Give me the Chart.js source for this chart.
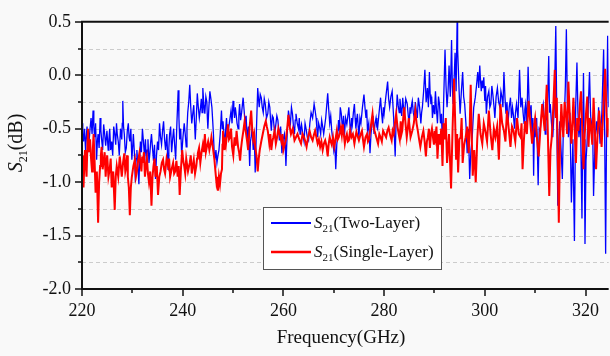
<!DOCTYPE html>
<html>
<head>
<meta charset="utf-8">
<script src="https://cdn.jsdelivr.net/npm/chart.js@4.4.0/dist/chart.umd.min.js"></script>
<style>
    body { margin: 0; background: #f9f9f9; }
    #wrap { width: 610px; height: 356px; }
</style>
</head>
<body>
<div id="wrap"><canvas id="s21Chart" width="610" height="356"></canvas></div>
<script>
// S21 (Two-Layer)
const twoLayerGHz = [
    220.0, 220.15, 220.3, 220.5, 220.7, 220.85, 221.0, 221.2, 221.4, 221.6,
    221.8, 222.0, 222.2, 222.35, 222.5, 222.7, 222.9, 223.05, 223.2, 223.4,
    223.6, 223.75, 223.9, 224.1, 224.3, 224.5, 224.7, 224.95, 225.2, 225.35,
    225.5, 225.7, 225.9, 226.1, 226.3, 226.5, 226.7, 226.85, 227.0, 227.2,
    227.4, 227.65, 227.9, 228.0, 228.1, 228.25, 228.4, 228.6, 228.8, 229.0,
    229.2, 229.35, 229.5, 229.7, 229.9, 230.05, 230.2, 230.4, 230.6, 230.75,
    230.9, 231.1, 231.3, 231.45, 231.6, 231.8, 232.0, 232.2, 232.4, 232.6,
    232.8, 232.95, 233.1, 233.3, 233.5, 233.65, 233.8, 234.0, 234.2, 234.4,
    234.6, 234.8, 235.0, 235.2, 235.4, 235.6, 235.8, 236.0, 236.2, 236.4,
    236.6, 236.85, 237.1, 237.25, 237.4, 237.6, 237.8, 238.0, 238.2, 238.4,
    238.6, 238.85, 239.1, 239.25, 239.4, 239.6, 239.8, 240.05, 240.3, 240.5,
    240.7, 240.85, 241.0, 241.2, 241.4, 241.6, 241.8, 242.0, 242.2, 242.35,
    242.5, 242.7, 242.9, 243.1, 243.3, 243.5, 243.7, 243.85, 244.0, 244.2,
    244.4, 244.6, 244.8, 244.9, 245.0, 245.2, 245.4, 245.6, 245.8, 245.95,
    246.1, 246.25, 246.4, 246.6, 246.8, 247.0, 247.2, 247.45, 247.7, 247.85,
    248.0, 248.2, 248.4, 248.55, 248.7, 248.9, 249.1, 249.35, 249.6, 249.8,
    250.0, 250.15, 250.3, 250.45, 250.6, 250.8, 251.0, 251.15, 251.3, 251.5,
    251.7, 251.85, 252.0, 252.2, 252.4, 252.6, 252.8, 253.05, 253.3, 253.45,
    253.6, 253.8, 254.0, 254.2, 254.4, 254.65, 254.9, 255.05, 255.2, 255.4,
    255.6, 255.8, 256.0, 256.2, 256.4, 256.65, 256.9, 257.1, 257.3, 257.45,
    257.6, 257.8, 258.0, 258.25, 258.5, 258.7, 258.9, 259.05, 259.2, 259.45,
    259.7, 259.95, 260.2, 260.35, 260.5, 260.75, 261.0, 261.2, 261.4, 261.6,
    261.8, 262.0, 262.2, 262.35, 262.5, 262.75, 263.0, 263.15, 263.3, 263.45,
    263.6, 263.85, 264.1, 264.3, 264.5, 264.75, 265.0, 265.25, 265.5, 265.8,
    266.1, 266.3, 266.5, 266.65, 266.8, 267.0, 267.2, 267.4, 267.6, 267.8,
    268.0, 268.4, 268.8, 269.0, 269.2, 269.4, 269.6, 269.8, 270.0, 270.2,
    270.4, 270.6, 270.8, 270.95, 271.1, 271.3, 271.5, 271.65, 271.8, 271.95,
    272.1, 272.35, 272.6, 272.8,
    273.0, 273.2, 273.4, 273.55, 273.7, 273.9, 274.1, 274.25, 274.4, 274.55,
    274.7, 274.85, 275.0, 275.2, 275.4, 275.7, 276.0, 276.2, 276.4, 276.55,
    276.7, 276.95, 277.2, 277.4, 277.6, 277.8, 278.0, 278.2, 278.4, 278.55,
    278.7, 279.0, 279.3, 279.5, 279.7, 279.85, 280.0, 280.35, 280.7, 280.9,
    281.1, 281.35, 281.6, 281.9, 282.2, 282.4, 282.6, 282.8, 283.0, 283.15,
    283.3, 283.5, 283.7, 283.85, 284.0, 284.3, 284.6, 284.8, 285.0, 285.15,
    285.3, 285.45, 285.6, 285.8, 286.0, 286.2, 286.4, 286.6, 286.8, 287.05,
    287.3, 287.45, 287.6, 287.85, 288.1, 288.35, 288.6, 288.8, 289.0, 289.15,
    289.3, 289.45, 289.6, 289.8, 290.0, 290.1, 290.2, 290.4, 290.6, 290.8,
    291.0, 291.2, 291.4, 291.6, 291.85, 292.1, 292.3, 292.5, 292.7, 292.9,
    293.15, 293.4, 293.55, 293.7, 293.9, 294.1, 294.3, 294.5, 294.6, 294.7,
    294.9, 295.1, 295.35, 295.6, 295.8, 296.0, 296.25, 296.5, 296.75, 297.0,
    297.25, 297.5, 297.8, 298.1, 298.35, 298.6, 298.8,
    299.0, 299.15, 299.3, 299.45, 299.6, 299.8, 300.0, 300.15, 300.3, 300.55,
    300.8, 301.0, 301.2, 301.4, 301.6, 301.8, 302.0, 302.25, 302.5, 302.75,
    303.0, 303.2, 303.4, 303.6, 303.8, 304.0, 304.2, 304.4, 304.6, 304.85,
    305.1, 305.3, 305.5, 305.7, 305.9, 306.1, 306.3, 306.6, 306.9, 307.15,
    307.4, 307.6, 307.8, 307.95, 308.1, 308.35, 308.6, 308.8, 309.0, 309.2,
    309.4, 309.55, 309.7, 309.85, 310.0, 310.3, 310.6, 310.8, 311.0, 311.3,
    311.6, 311.8, 312.0, 312.15, 312.3, 312.5, 312.7, 312.85, 313.0, 313.25,
    313.5, 313.8, 314.1, 314.3, 314.5, 314.7, 314.9, 315.15, 315.4, 315.6,
    315.8, 316.0, 316.2, 316.4, 316.6, 316.9, 317.2, 317.5, 317.8, 318.05,
    318.3, 318.5, 318.7, 319.0, 319.3, 319.45, 319.6, 319.75, 319.9, 320.1,
    320.3, 320.55, 320.8, 321.0, 321.2, 321.4, 321.6, 321.9, 322.2, 322.4,
    322.6, 322.75, 322.9, 323.25, 323.6, 323.8, 324.0, 324.2, 324.4, 324.6
];
const twoLayerDB = [
    -0.45, -0.55, -0.62, -0.50, -0.70, -0.58, -0.48, -0.72, -0.62, -0.50,
    -0.40, -0.55, -0.33, -0.48, -0.58, -0.45, -0.79, -0.62, -0.55, -0.68,
    -0.40, -0.52, -0.60, -0.70, -0.46, -0.55, -0.66, -0.52, -0.70, -0.60,
    -0.50, -0.70, -0.62, -0.75, -0.48, -0.55, -0.65, -0.45, -0.55, -0.62,
    -0.75, -0.50, -0.60, -0.45, -0.24, -0.48, -0.55, -0.72, -0.68, -0.52,
    -0.45, -0.58, -0.62, -0.50, -0.79, -0.68, -0.55, -0.72, -1.00, -0.78,
    -0.70, -0.85, -1.02, -0.80, -0.62, -0.72, -0.50, -0.62, -0.75, -0.60,
    -0.85, -0.70, -0.60, -0.82, -0.72, -0.62, -0.55, -0.68, -0.80, -0.65,
    -0.97, -0.75, -0.62, -0.70, -0.45, -0.58, -0.65, -0.52, -0.43, -0.60,
    -0.70, -0.55, -0.88, -0.68, -0.55, -0.48, -0.72, -0.60, -0.50, -0.65,
    -0.79, -0.45, -0.14, -0.40, -0.60, -0.50, -0.75, -0.58, -0.45, -0.55,
    -0.67, -0.50, -0.35, -0.25, -0.09, -0.30, -0.45, -0.36, -0.28, -0.45,
    -0.60, -0.40, -0.17, -0.30, -0.40, -0.32, -0.22, -0.35, -0.12, -0.28,
    -0.36, -0.20, -0.25, -0.40, -0.50, -0.30, -0.15, -0.22, -0.30, -0.42,
    -0.55, -0.72, -0.79, -0.70, -0.82, -0.75, -0.70, -0.55, -0.33, -0.50,
    -0.43, -0.55, -0.64, -0.50, -0.40, -0.58, -0.50, -0.42, -0.33, -0.45,
    -0.24, -0.32, -0.40, -0.30, -0.36, -0.45, -0.50, -0.38, -0.27, -0.42,
    -0.35, -0.28, -0.21, -0.33, -0.46, -0.38, -0.60, -0.48, -0.85, -0.62,
    -0.58, -0.48, -0.70, -0.55, -0.91, -0.50, -0.12, -0.22, -0.30, -0.18,
    -0.21, -0.30, -0.35, -0.22, -0.27, -0.40, -0.36, -0.25, -0.30, -0.42,
    -0.52, -0.38, -0.40, -0.55, -0.46, -0.38, -0.42, -0.50, -0.61, -0.48,
    -0.73, -0.60, -0.55, -0.65, -0.85, -0.55, -0.33, -0.40, -0.45, -0.30,
    -0.36, -0.48, -0.55, -0.42, -0.36, -0.45, -0.50, -0.40, -0.55, -0.50,
    -0.46, -0.55, -0.62, -0.45, -0.50, -0.58, -0.61, -0.45, -0.35, -0.40,
    -0.27, -0.33, -0.40, -0.50, -0.58, -0.45, -0.49, -0.55, -0.42, -0.48,
    -0.55, -0.40, -0.17, -0.32, -0.45, -0.38, -0.52, -0.60, -0.70, -0.62,
    -0.88, -0.65, -0.55, -0.42, -0.52, -0.30, -0.36, -0.45, -0.48, -0.38,
    -0.58, -0.40, -0.46, -0.38,
    -0.30, -0.45, -0.55, -0.40, -0.46, -0.35, -0.27, -0.40, -0.50, -0.42,
    -0.36, -0.48, -0.58, -0.40, -0.45, -0.30, -0.18, -0.30, -0.40, -0.32,
    -0.52, -0.45, -0.73, -0.55, -0.45, -0.38, -0.55, -0.45, -0.40, -0.48,
    -0.50, -0.35, -0.21, -0.35, -0.45, -0.30, -0.36, -0.20, -0.06, -0.22,
    -0.30, -0.20, -0.15, -0.40, -0.76, -0.40, -0.18, -0.28, -0.35, -0.22,
    -0.30, -0.38, -0.21, -0.30, -0.40, -0.22, -0.27, -0.38, -0.45, -0.30,
    -0.36, -0.28, -0.24, -0.35, -0.40, -0.25, -0.33, -0.40, -0.21, -0.30,
    -0.45, -0.35, -0.30, -0.15, 0.05, -0.25, -0.12, -0.30, 0.03, -0.18,
    -0.27, -0.20, -0.40, -0.28, -0.36, -0.25, -0.15, -0.32, -0.45, -0.20,
    -0.27, -0.45, -0.36, -0.70, -0.20, 0.24, -0.10, -0.30, -0.15, 0.09,
    -0.20, 0.33, -0.10, -0.27, -0.05, 0.21, -0.15, 0.50, 0.25, 0.12,
    -0.15, -0.36, -0.15, 0.03, -0.20, -0.27, -0.45, -0.73, -0.50, -0.97,
    -0.70, -0.58, -0.30, -0.21, -0.10, 0.03, -0.12,
    0.09, -0.05, -0.15, -0.05, -0.12, -0.02, -0.24, -0.10, -0.36, -0.20,
    -0.15, -0.30, -0.27, -0.10, -0.18, -0.28, -0.40, -0.20, -0.12, -0.25,
    -0.30, -0.15, -0.20, -0.30, 0.03, -0.20, -0.36, -0.25, -0.45, -0.30,
    -0.21, -0.40, -0.30, -0.38, -0.50, -0.35, -0.27, -0.40, 0.05, -0.30,
    -0.21, -0.35, -0.45, -0.32, -0.27, -0.45, 0.08, -0.25, -0.36, -0.28,
    -0.60, -0.40, -0.94, -0.45, -0.58, -0.40, -1.03, -0.50, -0.52, -0.35,
    -0.27, -0.40, -0.55, -0.30, -0.42, -0.20, 0.18, -0.35, -0.27, -0.45,
    -0.58, -0.30, 0.46, -0.40, -1.22, -0.60, -0.43, -0.70, -0.97, -0.50,
    -0.40, -0.10, 0.43, -0.30, -0.58, -0.35, -1.19, -0.60, -1.55, -0.30,
    0.12, -0.35, -0.58, -0.40, -1.34, -0.50, 0.02, -0.60, -1.58, -0.80,
    -0.64, -0.30, 0.03, -0.35, -0.55, -0.40, -1.13, -0.60, -0.43, -0.55,
    -0.30, -0.50, -0.64, -0.35, 0.24, -0.50, -1.67, -0.40, 0.37, -0.30
];

// S21 (Single-Layer)
const singleLayerGHz = [
    220.0, 220.15, 220.3, 220.45, 220.6, 220.75, 220.9, 221.05, 221.2, 221.4,
    221.6, 221.8, 222.0, 222.15, 222.3, 222.5, 222.7, 222.95, 223.2, 223.4,
    223.6, 223.75, 223.9, 224.1, 224.3, 224.5, 224.7, 224.85, 225.0, 225.25,
    225.5, 225.7, 225.9, 226.2, 226.5, 226.7, 226.9, 227.2, 227.5, 227.7,
    227.9, 228.15, 228.4, 228.6, 228.8, 228.95, 229.1, 229.3, 229.5, 229.7,
    229.9, 230.2, 230.5, 230.7, 230.9, 231.15, 231.4, 231.6, 231.8, 231.95,
    232.1, 232.3, 232.5, 232.7, 232.9, 233.1, 233.3, 233.55, 233.8, 234.0,
    234.2, 234.4, 234.6, 234.85, 235.1, 235.35, 235.6, 235.85, 236.1, 236.3,
    236.5, 236.8, 237.1, 237.3, 237.5, 237.8, 238.1, 238.3, 238.5, 238.75,
    239.0, 239.2, 239.4, 239.65, 239.9, 240.1, 240.3, 240.5, 240.7, 241.05,
    241.4, 241.6, 241.8, 242.0, 242.2, 242.45, 242.7, 242.85, 243.0, 243.25,
    243.5, 243.75, 244.0, 244.2, 244.4, 244.6, 244.8, 245.05, 245.3, 245.5,
    245.7, 246.0, 246.3, 246.5, 246.7, 246.85, 247.0, 247.2, 247.4, 247.6,
    247.8, 247.9,
    248.0, 248.15, 248.3, 248.45, 248.6, 248.8, 249.0, 249.2, 249.4, 249.6,
    249.8, 250.05, 250.3, 250.5, 250.7, 250.85, 251.0, 251.2, 251.4, 251.6,
    251.8, 252.05, 252.3, 252.45, 252.6, 252.8, 253.0, 253.3, 253.6, 253.8,
    254.0, 254.2, 254.4, 254.65, 254.9, 255.1, 255.3, 255.6, 255.9, 256.2,
    256.5, 256.7, 256.9, 257.05, 257.2, 257.4, 257.6, 257.8, 258.0, 258.25,
    258.5, 258.75, 259.0, 259.3, 259.6, 259.8, 260.0, 260.25, 260.5, 260.75,
    261.0, 261.25, 261.5, 261.85, 262.2, 262.5, 262.8, 263.15, 263.5, 263.8,
    264.1, 264.35, 264.6, 264.9, 265.2, 265.5, 265.8, 266.05, 266.3, 266.55,
    266.8, 267.05, 267.3, 267.55, 267.8, 268.05, 268.3, 268.55, 268.8, 269.0,
    269.2, 269.4, 269.6, 269.85, 270.1, 270.35, 270.6, 270.8, 271.0, 271.2,
    271.4, 271.6,
    271.8, 272.0, 272.2, 272.4, 272.6, 272.8, 273.0, 273.25, 273.5, 273.8,
    274.1, 274.3, 274.5, 274.75, 275.0, 275.3, 275.6, 275.8, 276.0, 276.3,
    276.6, 276.8, 277.0, 277.35, 277.7, 277.9, 278.1, 278.45, 278.8, 279.05,
    279.3, 279.55, 279.8, 280.1, 280.4, 280.65, 280.9, 281.2, 281.5, 281.7,
    281.9, 282.15, 282.4, 282.65, 282.9, 283.1, 283.3, 283.45, 283.6, 283.8,
    284.0, 284.25, 284.5, 284.7, 284.9, 285.25, 285.6, 285.9, 286.2, 286.45,
    286.7, 286.95, 287.2, 287.5, 287.8, 288.05, 288.3, 288.5, 288.7, 288.9,
    289.1, 289.3, 289.5, 289.7, 289.9, 290.05, 290.2, 290.4, 290.6, 290.85,
    291.1, 291.35, 291.6, 291.8, 292.0, 292.25, 292.5, 292.9, 293.3, 293.6,
    293.9, 294.1, 294.3, 294.5, 294.7, 294.95, 295.2, 295.4, 295.6, 295.9,
    296.2, 296.5, 296.8,
    297.0, 297.2, 297.4, 297.6, 297.9, 298.2, 298.5, 298.8, 299.15, 299.5,
    299.8, 300.1, 300.45, 300.8, 301.15, 301.5, 301.8, 302.1, 302.45, 302.8,
    302.95, 303.1, 303.45, 303.8, 304.1, 304.4, 304.75, 305.1, 305.4, 305.7,
    306.05, 306.4, 306.75, 307.1, 307.3, 307.5, 307.75, 308.0, 308.35, 308.7,
    309.05, 309.4, 309.7, 310.0, 310.35, 310.7, 311.05, 311.4, 311.65, 311.9,
    312.1, 312.3, 312.55, 312.8, 313.05, 313.3, 313.6, 313.9, 314.1, 314.3,
    314.5, 314.7, 314.95, 315.2, 315.4, 315.6, 315.85, 316.1, 316.35, 316.6,
    316.9, 317.2, 317.4, 317.6, 317.85, 318.1, 318.35, 318.6, 318.85, 319.1,
    319.35, 319.6, 319.85, 320.1, 320.35, 320.6, 320.85, 321.1, 321.35, 321.6,
    321.85, 322.1, 322.4, 322.7, 322.95, 323.2, 323.55, 323.9, 324.15, 324.4,
    324.6
];
const singleLayerDB = [
    -0.88, -0.75, -1.05, -0.85, -0.70, -0.82, -0.95, -0.70, -0.50, -0.72,
    -0.60, -0.78, -0.90, -0.70, -0.55, -0.80, -1.10, -0.90, -1.38, -1.00,
    -0.85, -0.75, -0.67, -0.88, -0.80, -0.72, -0.95, -0.82, -0.75, -0.95,
    -0.88, -0.78, -1.05, -0.90, -1.26, -0.95, -0.85, -0.95, -0.76, -0.85,
    -0.95, -0.82, -0.73, -0.90, -0.85, -0.75, -0.95, -1.05, -1.31, -1.05,
    -0.95, -0.85, -0.79, -0.95, -0.90, -0.80, -0.73, -0.82, -0.90, -0.76,
    -0.82, -0.72, -0.95, -0.85, -0.78, -0.92, -1.00, -0.90, -1.22, -0.95,
    -0.85, -0.78, -0.95, -0.85, -1.12, -0.95, -0.90, -0.82, -0.79, -0.88,
    -0.92, -0.78, -0.85, -0.78, -0.95, -0.88, -0.82, -0.92, -0.90, -0.80,
    -0.95, -0.85, -1.12, -0.88, -0.70, -0.80, -0.85, -0.92, -0.78, -0.90,
    -0.82, -0.75, -0.92, -0.85, -0.79, -0.92, -0.85, -0.78, -0.73, -0.68,
    -0.82, -0.72, -0.65, -0.72, -0.55, -0.72, -0.67, -0.62, -0.70, -0.65,
    -0.58, -0.68, -0.79, -0.90, -1.00, -0.95, -1.08, -0.95, -1.02, -0.92,
    -0.88, -0.65,
    -0.52, -0.62, -0.70, -0.58, -0.64, -0.55, -0.46, -0.60, -0.58, -0.50,
    -0.67, -0.75, -0.58, -0.66, -0.52, -0.60, -0.67, -0.72, -0.80, -0.68,
    -0.60, -0.52, -0.43, -0.50, -0.55, -0.62, -0.70, -0.48, -0.33, -0.50,
    -0.60, -0.55, -0.67, -0.75, -0.90, -0.78, -0.70, -0.62, -0.55, -0.48,
    -0.43, -0.48, -0.52, -0.58, -0.64, -0.55, -0.70, -0.62, -0.58, -0.52,
    -0.64, -0.58, -0.50, -0.56, -0.62, -0.55, -0.70, -0.65, -0.60, -0.50,
    -0.37, -0.48, -0.55, -0.50, -0.61, -0.58, -0.55, -0.60, -0.64, -0.55,
    -0.58, -0.62, -0.67, -0.58, -0.52, -0.58, -0.61, -0.56, -0.52, -0.58,
    -0.64, -0.60, -0.67, -0.62, -0.70, -0.64, -0.61, -0.66, -0.76, -0.64,
    -0.58, -0.62, -0.65, -0.58, -0.67, -0.60, -0.52, -0.60, -0.58, -0.54,
    -0.49, -0.56,
    -0.46, -0.55, -0.64, -0.58, -0.55, -0.62, -0.61, -0.52, -0.58, -0.55,
    -0.64, -0.58, -0.53, -0.57, -0.61, -0.56, -0.52, -0.60, -0.67, -0.58,
    -0.55, -0.62, -0.60, -0.48, -0.36, -0.48, -0.52, -0.58, -0.64, -0.55,
    -0.58, -0.62, -0.52, -0.55, -0.58, -0.52, -0.49, -0.56, -0.61, -0.52,
    -0.55, -0.45, -0.36, -0.48, -0.55, -0.60, -0.43, -0.55, -0.52, -0.40,
    -0.30, -0.45, -0.58, -0.50, -0.40, -0.58, -0.52, -0.45, -0.33, -0.45,
    -0.52, -0.60, -0.67, -0.58, -0.52, -0.62, -0.76, -0.62, -0.58, -0.50,
    -0.68, -0.55, -0.50, -0.58, -0.65, -0.52, -0.58, -0.48, -0.78, -0.55,
    -0.65, -0.50, -0.85, -0.45, -0.60, -0.40, -0.82, -0.55, -1.06, -0.50,
    -0.03, -0.40, -0.79, -0.55, -0.91, -0.60, -0.58, -0.40, -0.82, -0.65,
    -0.58, -0.48, -0.73,
    -0.50, -0.09, -0.55, -0.94, -0.70, -1.00, -0.60, -0.36, -0.55, -0.64,
    -0.45, -0.52, -0.62, -0.33, -0.55, -0.70, -0.50, -0.58, -0.48, -0.79,
    -0.55, -0.27, -0.45, -0.52, -0.62, -0.33, -0.50, -0.67, -0.48, -0.52,
    -0.62, -0.40, -0.55, -0.58, -0.45, -0.88, -0.62, -0.43, -0.55, -0.24,
    -0.45, -0.64, -0.50, -0.40, -0.58, -0.76, -0.50, -0.27, -0.40, -0.52,
    -0.30, -0.09, -0.60, -1.13, -0.70, -0.58, -0.30, 0.05, -0.40, -0.21,
    -0.80, -1.38, -0.60, -0.27, -0.45, -0.58, -0.25, -0.36, -0.55, -0.06,
    -0.40, -0.64, -0.45, -0.21, -0.50, -0.82, -0.40, -0.52, -0.30, -0.15,
    -0.50, -0.88, -0.55, -0.36, -0.20, -0.67, -0.40, -0.49, -0.65, -0.21,
    -0.50, -0.88, -0.55, -0.33, -0.48, -0.67, -0.30, 0.06, -0.35, -0.58,
    -0.40
];

const xMin = 220;
const xMax = 324.6;
const yMin = -2.0;
const yMax = 0.5;

const serif = '"Liberation Serif", "Times New Roman", serif';

function toPoints(xs, ys) {
    let pts = [];
    for (let i = 0; i < xs.length; i++) {
        pts.push({x: xs[i], y: ys[i]});
    }
    return pts;
}

// italic S, subscript 21, then the rest of the label
function drawS21(ctx, x, y, rest, size) {
    ctx.font = 'italic ' + size + 'px ' + serif;
    ctx.fillText('S', x, y);
    x += ctx.measureText('S').width;
    ctx.font = Math.round(size * 0.62) + 'px ' + serif;
    ctx.fillText('21', x, y + size * 0.32);
    x += ctx.measureText('21').width;
    ctx.font = size + 'px ' + serif;
    ctx.fillText(rest, x, y);
}

function widthS21(ctx, rest, size) {
    ctx.font = 'italic ' + size + 'px ' + serif;
    let w = ctx.measureText('S').width;
    ctx.font = Math.round(size * 0.62) + 'px ' + serif;
    w += ctx.measureText('21').width;
    ctx.font = size + 'px ' + serif;
    return w + ctx.measureText(rest).width;
}

const frame = {
    id: 'frame',
    beforeDatasetsDraw(chart) {
        const {ctx, chartArea: a, scales: {y}} = chart;
        ctx.save();
        ctx.strokeStyle = '#cccccc';
        ctx.lineWidth = 1;
        ctx.setLineDash([4, 3]);
        y.ticks.forEach(function (t) {
            if (t.value <= yMin || t.value >= yMax) return;
            const py = Math.round(y.getPixelForValue(t.value)) + 0.5;
            ctx.beginPath();
            ctx.moveTo(a.left, py);
            ctx.lineTo(a.right, py);
            ctx.stroke();
        });
        ctx.restore();
    },
    afterDraw(chart) {
        const {ctx, chartArea: a, scales: {x, y}} = chart;
        ctx.save();

        // axes
        ctx.strokeStyle = '#111';
        ctx.lineWidth = 2;
        ctx.beginPath();
        ctx.moveTo(a.left, a.top);
        ctx.lineTo(a.right, a.top);
        ctx.moveTo(a.left, a.top - 1);
        ctx.lineTo(a.left, a.bottom + 1);
        ctx.moveTo(a.left - 1, a.bottom);
        ctx.lineTo(a.right, a.bottom);
        ctx.stroke();

        // tick marks, outward
        ctx.lineWidth = 1.5;
        ctx.beginPath();
        y.ticks.forEach(function (t) {
            const py = Math.round(y.getPixelForValue(t.value));
            const len = t.label ? 7 : 4;
            ctx.moveTo(a.left, py);
            ctx.lineTo(a.left - len, py);
        });
        x.ticks.forEach(function (t) {
            const px = Math.round(x.getPixelForValue(t.value));
            const len = t.label ? 7 : 4;
            ctx.moveTo(px, a.bottom);
            ctx.lineTo(px, a.bottom + len);
        });
        ctx.stroke();

        // axis titles
        ctx.fillStyle = '#111';
        ctx.textBaseline = 'middle';
        ctx.textAlign = 'center';
        ctx.font = '19px ' + serif;
        ctx.fillText('Frequency(GHz)', 341, 338);

        ctx.textAlign = 'left';
        ctx.save();
        ctx.translate(17, 143);
        ctx.rotate(-Math.PI / 2);
        const wy = widthS21(ctx, '(dB)', 20);
        drawS21(ctx, -wy / 2, 0, '(dB)', 20);
        ctx.restore();

        // legend
        ctx.fillStyle = '#ffffff';
        ctx.fillRect(263, 207, 178, 62);
        ctx.strokeStyle = '#555';
        ctx.lineWidth = 1;
        ctx.strokeRect(263.5, 207.5, 178, 62);

        ctx.lineWidth = 2;
        ctx.strokeStyle = '#0000ff';
        ctx.beginPath();
        ctx.moveTo(271, 223);
        ctx.lineTo(311, 223);
        ctx.stroke();
        ctx.lineWidth = 2.5;
        ctx.strokeStyle = '#ff0000';
        ctx.beginPath();
        ctx.moveTo(271, 252);
        ctx.lineTo(311, 252);
        ctx.stroke();

        ctx.fillStyle = '#111';
        drawS21(ctx, 314, 224, '(Two-Layer)', 17);
        drawS21(ctx, 314, 253, '(Single-Layer)', 17);

        ctx.restore();
    }
};

new Chart(document.getElementById('s21Chart'), {
    type: 'line',
    data: {
        datasets: [{
            label: 'S21(Two-Layer)',
            data: toPoints(twoLayerGHz, twoLayerDB),
            borderColor: '#0000ff',
            borderWidth: 1.3,
            pointRadius: 0,
            tension: 0,
            fill: false,
            order: 2
        }, {
            label: 'S21(Single-Layer)',
            data: toPoints(singleLayerGHz, singleLayerDB),
            borderColor: '#ff0000',
            borderWidth: 2,
            pointRadius: 0,
            tension: 0,
            fill: false,
            order: 1
        }]
    },
    options: {
        responsive: false,
        animation: false,
        devicePixelRatio: 1,
        layout: {
            padding: {top: 15, right: 0, left: 0, bottom: 0}
        },
        plugins: {
            legend: {display: false},
            tooltip: {enabled: false}
        },
        scales: {
            x: {
                type: 'linear',
                min: xMin,
                max: xMax,
                grid: {display: false, drawTicks: false},
                border: {display: false},
                ticks: {
                    stepSize: 10,
                    includeBounds: false,
                    autoSkip: false,
                    maxRotation: 0,
                    padding: 11,
                    color: '#111',
                    font: {family: serif, size: 18},
                    callback: function (v) {
                        const r = Math.round(v);
                        return r % 20 === 0 ? String(r) : '';
                    }
                },
                afterFit: function (s) { s.height = 67; }
            },
            y: {
                min: yMin,
                max: yMax,
                grid: {display: false, drawTicks: false},
                border: {display: false},
                ticks: {
                    stepSize: 0.25,
                    autoSkip: false,
                    padding: 11,
                    color: '#111',
                    font: {family: serif, size: 18},
                    callback: function (v) {
                        const h = Math.round(v * 100);
                        return h % 50 === 0 ? (h / 100).toFixed(1) : '';
                    }
                },
                afterFit: function (s) { s.width = 82; }
            }
        }
    },
    plugins: [frame]
});
</script>
</body>
</html>
